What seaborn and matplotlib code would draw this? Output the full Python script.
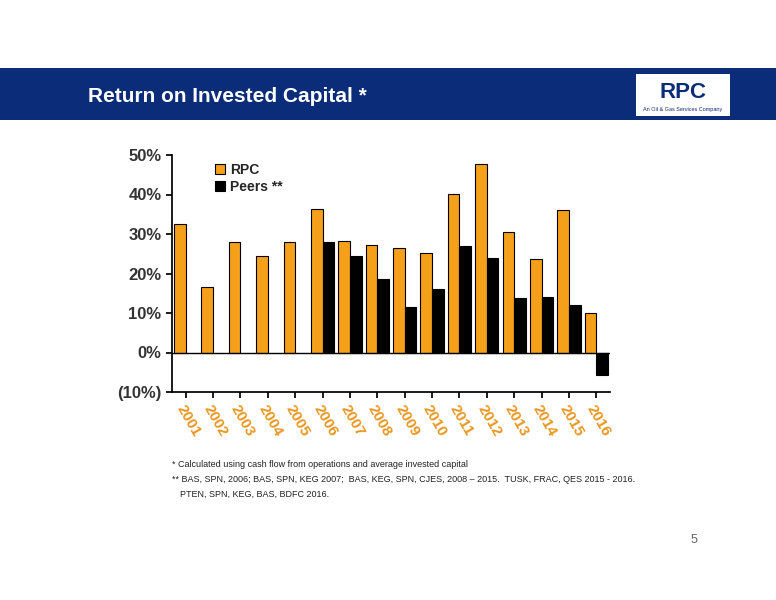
import matplotlib
matplotlib.use("Agg")
import matplotlib.pyplot as plt
import seaborn as sns
import pandas as pd
from matplotlib.patches import Rectangle

years = [str(y) for y in range(2001, 2017)]
rpc = [32.6, 16.7, 28.0, 24.5, 28.0, 36.4, 28.3, 27.3, 26.5, 25.3, 40.2, 47.7, 30.6, 23.7, 36.1, 10.1]
peers = [None, None, None, None, None, 28.0, 24.5, 18.7, 11.4, 16.2, 27.0, 24.0, 13.9, 14.1, 11.9, -5.8]

df = pd.DataFrame({"Year": years * 2,
                   "Value": rpc + peers,
                   "Series": ["RPC"] * 16 + ["Peers **"] * 16})

sns.set_theme(style="white")
plt.rcParams['font.family'] = ['Liberation Sans', 'DejaVu Sans']
fig = plt.figure(figsize=(7.76, 6.0), dpi=100)
fig.patches.append(Rectangle((0, 1 - 120/600), 1, 52/600, transform=fig.transFigure,
                             facecolor="#0B2C78", edgecolor="none", zorder=0))
fig.text(88/776, 1 - 96/600, "Return on Invested Capital *", color="white",
         fontsize=15, fontweight="bold", va="center")
fig.patches.append(Rectangle((636/776, 1 - 116/600), 94/776, 42/600, transform=fig.transFigure,
                             facecolor="white", edgecolor="none"))
fig.text(683/776, 1 - 92/600, "RPC", color="#0B2C78", fontsize=16, fontweight="bold",
         ha="center", va="center")
fig.text(683/776, 1 - 110/600, "An Oil & Gas Services Company", color="#0B2C78", fontsize=4,
         ha="center", va="center")

ax = fig.add_axes([172/776, 1 - 392/600, 438/776, 237/600])
sns.barplot(data=df, x="Year", y="Value", hue="Series",
            palette={"RPC": "#F5A01A", "Peers **": "#000000"},
            edgecolor="black", linewidth=0.8, width=0.85, ax=ax, saturation=1)
ax.set_ylim(-10, 50)
ax.set_yticks([-10, 0, 10, 20, 30, 40, 50])
ax.set_yticklabels(["(10%)", "0%", "10%", "20%", "30%", "40%", "50%"],
                   fontsize=12, fontweight="bold", color="#333333")
ax.axhline(0, color="black", lw=1)
ax.set_xlabel(""); ax.set_ylabel("")
ax.set_xticks(range(16))
ax.set_xticklabels(years, rotation=-60, ha="left", rotation_mode="anchor",
                   fontsize=11, fontweight="bold", color="#E8961E")
for s in ["top", "right"]:
    ax.spines[s].set_visible(False)
ax.spines["left"].set_color("black"); ax.spines["bottom"].set_color("black")
ax.tick_params(axis="y", left=True, length=4, color="black")
ax.tick_params(axis="x", bottom=True, length=4, color="black")
leg = ax.legend(loc="upper left", bbox_to_anchor=(0.07, 1.02), frameon=False,
                fontsize=10, handlelength=0.7, handletextpad=0.4, labelspacing=0.2)
for t in leg.get_texts():
    t.set_fontweight("bold")

fig.text(172/776, 1 - 467/600, "* Calculated using cash flow from operations and average invested capital",
         fontsize=6.5, color="#222222")
fig.text(172/776, 1 - 482/600, "** BAS, SPN, 2006; BAS, SPN, KEG 2007;  BAS, KEG, SPN, CJES, 2008 \u2013 2015.  TUSK, FRAC, QES 2015 - 2016.",
         fontsize=6.5, color="#222222")
fig.text(180/776, 1 - 497/600, "PTEN, SPN, KEG, BAS, BDFC 2016.", fontsize=6.5, color="#222222")
fig.text(694/776, 1 - 540/600, "5", fontsize=9, color="#666666", ha="center", va="center")

fig.savefig("out.png", dpi=100)
